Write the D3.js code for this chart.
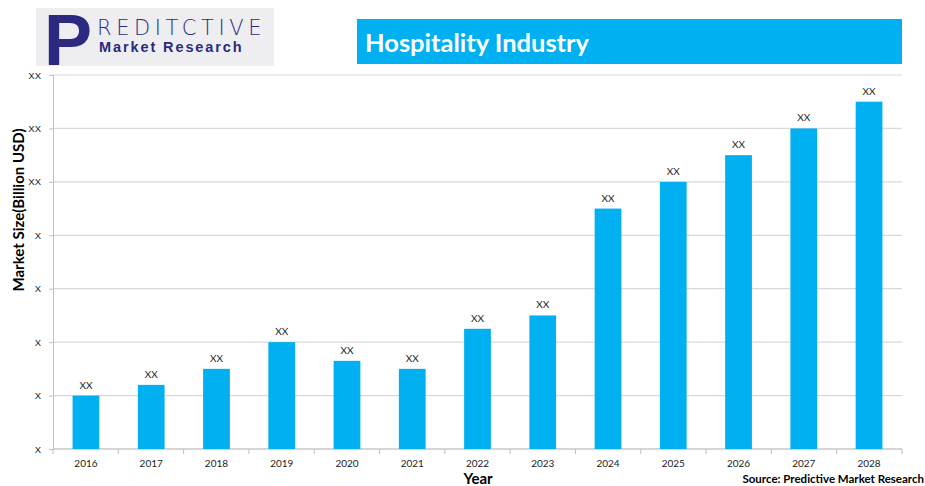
<!DOCTYPE html>
<html>
<head>
<meta charset="utf-8">
<script src="https://cdnjs.cloudflare.com/ajax/libs/d3/7.8.5/d3.min.js"></script>
<style>
  body { margin: 0; background: #fff; }
  svg { display: block; font-family: Lato, "Open Sans", sans-serif; }
</style>
</head>
<body>
<div id="chart"></div>
<script>
/* DATA */
const years = ["2016", "2017", "2018", "2019", "2020", "2021", "2022", "2023", "2024", "2025", "2026", "2027", "2028"];
const values = [1.0, 1.2, 1.5, 2.0, 1.65, 1.5, 2.25, 2.5, 4.5, 5.0, 5.5, 6.0, 6.5];
const barLabels = ["XX", "XX", "XX", "XX", "XX", "XX", "XX", "XX", "XX", "XX", "XX", "XX", "XX"];
const yTicks = [0, 1, 2, 3, 4, 5, 6, 7];
const yTickLabels = ["X", "X", "X", "X", "X", "XX", "XX", "XX"];

const width = 925;
const height = 486;
const margin = { top: 75, right: 23, bottom: 37, left: 53 };

const svg = d3.select("#chart")
    .append("svg")
    .attr("width", width)
    .attr("height", height);

/* LOGO */
const logo = svg.append("g");
logo.append("rect")
    .attr("x", 36).attr("y", 8)
    .attr("width", 238).attr("height", 58)
    .attr("fill", "#eeeef0");
logo.append("text")
    .attr("x", 44).attr("y", 65)
    .attr("font-size", 72)
    .attr("font-weight", "bold")
    .attr("font-family", "'Liberation Sans', Arial, sans-serif")
    .attr("fill", "#2b2a80")
    .text("P");
logo.append("text")
    .attr("x", 97).attr("y", 35)
    .attr("font-size", 21)
    .attr("font-family", "'DejaVu Sans', sans-serif")
    .attr("font-weight", 300)
    .attr("letter-spacing", 4.6)
    .attr("fill", "#2b2a80")
    .text("REDITCTIVE");
logo.append("text")
    .attr("x", 99).attr("y", 52)
    .attr("font-size", 14.5)
    .attr("font-weight", "bold")
    .attr("font-family", "'Liberation Sans', Arial, sans-serif")
    .attr("letter-spacing", 1.9)
    .attr("fill", "#2b2a80")
    .text("Market Research");

/* TITLE BOX */
svg.append("rect")
    .attr("x", 357).attr("y", 19)
    .attr("width", 545).attr("height", 45)
    .attr("fill", "#00b0f0");
svg.append("text")
    .attr("x", 365).attr("y", 52)
    .attr("font-size", 25.5)
    .attr("font-weight", "bold")
    .attr("fill", "#fff")
    .text("Hospitality Industry");

/* SCALES */
const xScale = d3.scaleBand()
    .domain(years)
    .range([margin.left, width - margin.right])
    .paddingInner(0.59)
    .paddingOuter(0.3);

const xTickScale = d3.scaleBand()
    .domain(years)
    .range([margin.left, width - margin.right]);

const yScale = d3.scaleLinear()
    .domain([0, 7])
    .range([height - margin.bottom, margin.top]);

/* GRID */
svg.append("g")
    .selectAll("line")
    .data(yTicks)
    .join("line")
    .attr("x1", margin.left)
    .attr("x2", width - margin.right)
    .attr("y1", d => yScale(d))
    .attr("y2", d => yScale(d))
    .attr("stroke", "#d9d9d9")
    .attr("stroke-width", 1.2);

/* AXES */
const yAxis = d3.axisLeft(yScale)
    .tickValues(yTicks)
    .tickFormat((d, i) => yTickLabels[i])
    .tickSize(4)
    .tickPadding(8);
const yG = svg.append("g")
    .attr("transform", `translate(${margin.left},0)`)
    .call(yAxis);
yG.select(".domain").attr("stroke", "#bfbfbf");
yG.selectAll(".tick line").attr("stroke", "#bfbfbf");
yG.selectAll(".tick text")
    .attr("font-size", 9.5)
    .attr("fill", "#222");

// bottom axis with ticks at band boundaries
const xG = svg.append("g")
    .attr("transform", `translate(0,${height - margin.bottom})`);
xG.append("line")
    .attr("x1", margin.left).attr("x2", width - margin.right)
    .attr("stroke", "#bfbfbf");
xG.selectAll(".btick")
    .data(years.concat(["end"]))
    .join("line")
    .attr("class", "btick")
    .attr("x1", (d, i) => i < years.length ? xTickScale(d) : width - margin.right)
    .attr("x2", (d, i) => i < years.length ? xTickScale(d) : width - margin.right)
    .attr("y1", 0).attr("y2", 5)
    .attr("stroke", "#bfbfbf");
xG.selectAll(".blabel")
    .data(years)
    .join("text")
    .attr("class", "blabel")
    .attr("x", d => xScale(d) + xScale.bandwidth() / 2)
    .attr("y", 18)
    .attr("text-anchor", "middle")
    .attr("font-size", 10)
    .attr("fill", "#222")
    .text(d => d);

/* BARS */
svg.selectAll(".bar")
    .data(values)
    .join("rect")
    .attr("class", "bar")
    .attr("x", (d, i) => xScale(years[i]))
    .attr("y", d => yScale(d))
    .attr("width", xScale.bandwidth())
    .attr("height", d => yScale(0) - yScale(d))
    .attr("fill", "#00b0f0");

/* BAR LABELS */
svg.selectAll(".label")
    .data(values)
    .join("text")
    .attr("class", "label")
    .attr("x", (d, i) => xScale(years[i]) + xScale.bandwidth() / 2)
    .attr("y", d => yScale(d) - 7)
    .attr("text-anchor", "middle")
    .attr("font-size", 10)
    .attr("fill", "#222")
    .text((d, i) => barLabels[i]);

/* AXIS TITLES */
svg.append("text")
    .attr("transform", `translate(24,210) rotate(-90)`)
    .attr("text-anchor", "middle")
    .attr("font-size", 15)
    .attr("font-weight", "bold")
    .attr("fill", "#000")
    .text("Market Size(Billion USD)");

svg.append("text")
    .attr("x", 478).attr("y", 484)
    .attr("text-anchor", "middle")
    .attr("font-size", 15)
    .attr("font-weight", "bold")
    .attr("fill", "#000")
    .text("Year");

svg.append("text")
    .attr("x", 924).attr("y", 483)
    .attr("text-anchor", "end")
    .attr("font-size", 11.5)
    .attr("font-weight", "bold")
    .attr("fill", "#000")
    .text("Source: Predictive Market Research");
</script>
</body>
</html>
